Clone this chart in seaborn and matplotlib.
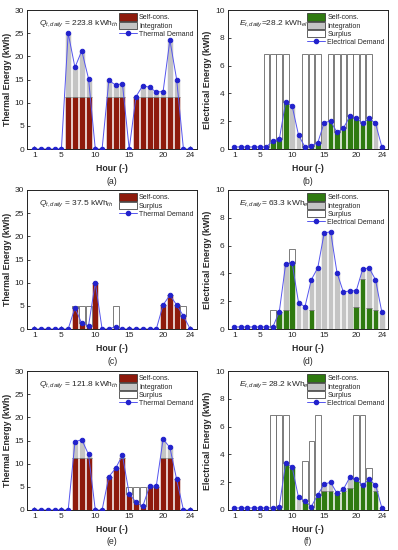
import matplotlib
matplotlib.use("Agg")
import matplotlib.pyplot as plt
import pandas as pd
import seaborn as sns
from matplotlib.patches import Patch
from matplotlib.lines import Line2D

hours = list(range(1, 25))

# (a) thermal, case 1
demand_a = [0, 0, 0, 0, 0, 25.0, 17.6, 21.2, 15.2, 0, 0, 14.8, 13.8, 14.1, 0, 11.3,
            13.7, 13.3, 12.3, 12.4, 23.5, 15.0, 0, 0]
self_a = [0, 0, 0, 0, 0, 11.3, 11.3, 11.3, 11.3, 0, 0, 11.3, 11.3, 11.3, 0, 11.3,
          11.3, 11.3, 11.3, 11.3, 11.3, 11.3, 0, 0]
surplus_a = [0] * 24

# (b) electrical, case 1
demand_b = [0.15, 0.15, 0.15, 0.15, 0.15, 0.15, 0.6, 0.7, 3.4, 3.1, 1.0, 0.15, 0.25, 0.45,
            1.9, 2.0, 1.2, 1.5, 2.35, 2.25, 1.85, 2.2, 1.85, 0.15]
self_b = [0, 0, 0, 0, 0, 0.15, 0.6, 0.7, 3.4, 0, 0, 0.15, 0.25, 0.45, 0, 2.0, 1.2, 1.5,
          2.35, 2.25, 1.85, 2.2, 0, 0]
surplus_b = [0, 0, 0, 0, 0, 6.65, 6.2, 6.1, 3.4, 0, 0, 6.65, 6.55, 6.35, 0, 4.8, 5.6, 5.3,
             4.45, 4.55, 4.95, 4.6, 0, 0]

# (c) thermal, case 2
demand_c = [0, 0, 0, 0, 0, 0, 4.6, 1.2, 0.7, 10.0, 0, 0, 0.5, 0, 0, 0, 0, 0, 0, 5.2,
            7.3, 5.2, 2.8, 0]
self_c = [0, 0, 0, 0, 0, 0, 4.6, 1.2, 0.7, 10.0, 0, 0, 0.5, 0, 0, 0, 0, 0, 0, 5.2,
          7.3, 5.2, 2.8, 0]
surplus_c = [0, 0, 0, 0, 0, 0, 0.4, 3.8, 4.3, 0, 0, 0, 4.5, 0, 0, 0, 0, 0, 0, 0,
             0, 0, 2.2, 0]

# (d) electrical, case 2
demand_d = [0.15, 0.15, 0.15, 0.15, 0.15, 0.15, 0.15, 1.25, 4.7, 4.75, 1.9, 1.6, 3.55, 4.4,
            6.9, 7.0, 4.05, 2.65, 2.75, 2.75, 4.3, 4.4, 3.55, 1.2]
self_d = [0, 0, 0, 0, 0, 0, 0.15, 1.25, 1.35, 4.75, 0, 0, 1.35, 0, 0, 0, 0, 0, 0, 1.6,
          3.6, 1.5, 1.35, 0]
surplus_d = [0, 0, 0, 0, 0, 0, 1.2, 0, 0, 1.0, 0, 0, 0, 0, 0, 0, 0, 0, 0, 0, 0, 0, 0, 0]

# (e) thermal, case 3
demand_e = [0, 0, 0, 0, 0, 0, 14.7, 15.2, 12.0, 0, 0, 7.2, 9.0, 11.8, 3.5, 1.7, 0.8, 5.1,
            5.2, 15.3, 13.5, 6.6, 0, 0]
self_e = [0, 0, 0, 0, 0, 0, 11.3, 11.3, 11.3, 0, 0, 7.2, 9.0, 11.3, 3.5, 1.7, 0.8, 4.9,
          4.9, 11.3, 11.3, 6.6, 0, 0]
surplus_e = [0, 0, 0, 0, 0, 0, 0, 0, 0, 0, 0, 0, 0, 0, 1.4, 3.2, 4.1, 0, 0, 0, 0, 0, 0, 0]

# (f) electrical, case 3
demand_f = [0.15, 0.15, 0.15, 0.15, 0.15, 0.15, 0.15, 0.25, 3.4, 3.1, 0.9, 0.65, 0.25, 1.1,
            1.85, 2.0, 1.2, 1.5, 2.35, 2.2, 1.8, 2.2, 1.8, 0.15]
self_f = [0, 0, 0, 0, 0, 0, 0.15, 0.25, 3.4, 3.1, 0, 0.65, 0.25, 1.1, 1.35, 1.35, 1.2, 1.35,
          1.6, 2.2, 1.8, 2.2, 1.35, 0]
surplus_f = [0, 0, 0, 0, 0, 0, 6.65, 6.55, 3.4, 0, 0, 2.9, 4.7, 5.7, 0, 0, 0, 0, 0, 4.6,
             5.0, 0.8, 0, 0]

daily_labels = [r"$Q_{t,daily}$ = 223.8 kWh$_{th}$", r"$E_{t,daily}$=28.2 kWh$_{el}$",
                r"$Q_{t,daily}$ = 37.5 kWh$_{th}$", r"$E_{t,daily}$= 63.3 kWh$_{el}$",
                r"$Q_{t,daily}$ = 121.8 kWh$_{th}$", r"$E_{t,daily}$= 28.2 kWh$_{el}$"]
captions = ["(a)", "(b)", "(c)", "(d)", "(e)", "(f)"]

RED = "#8e1a0c"
GREEN = "#2f7a10"
GREY = "#c4c4c4"
BLUE = "#2222cc"

sns.set_theme(style="ticks")
plt.rcParams["font.family"] = ["Liberation Sans", "DejaVu Sans"]
plt.rcParams["mathtext.fontset"] = "custom"
plt.rcParams["mathtext.rm"] = "Liberation Sans"
plt.rcParams["mathtext.it"] = "Liberation Sans:italic"


def draw_panel(ax, demand, selfc, surplus, kind, text, legend_items):
    self_color = RED if kind == "thermal" else GREEN
    # integration (grey) under the demand, self-consumption on top of it from zero
    ax.bar(hours, demand, width=0.88, color=GREY, edgecolor="white", linewidth=0.4, zorder=2)
    ax.bar(hours, selfc, width=0.88, color=self_color, edgecolor="white", linewidth=0.4, zorder=3)
    ax.bar(hours, surplus, bottom=selfc, width=0.88, color="white", edgecolor="#666666",
           linewidth=0.6, zorder=3)
    df = pd.DataFrame({"hour": hours, "demand": demand})
    sns.lineplot(data=df, x="hour", y="demand", ax=ax, color="#5555ee", linewidth=0.7,
                 marker="o", markersize=3.2, markerfacecolor=BLUE, markeredgecolor=BLUE, zorder=4)

    ax.set_xlim(0, 25)
    ax.set_xticks([1, 5, 10, 15, 20, 24])
    if kind == "thermal":
        ax.set_ylim(0, 30)
        ax.set_yticks(range(0, 31, 5))
        ax.set_ylabel("Thermal Energy (kWh)", fontsize=6.3, fontweight="bold", labelpad=2)
    else:
        ax.set_ylim(0, 10)
        ax.set_yticks(range(0, 11, 2))
        ax.set_ylabel("Electrical Energy (kWh)", fontsize=6.3, fontweight="bold", labelpad=2)
    ax.set_xlabel("Hour (-)", fontsize=6.3, fontweight="bold", labelpad=3)
    ax.tick_params(direction="in", length=2.5, width=0.6, labelsize=6, pad=2.5)
    for s in ax.spines.values():
        s.set_visible(True)
        s.set_linewidth(0.7)
        s.set_color("#222222")
    ax.text(0.07, 0.9, text, transform=ax.transAxes, fontsize=6, va="center")

    handles = []
    names = {"self": "Self-cons.", "integ": "Integration", "surplus": "Surplus"}
    for item in legend_items:
        if item == "self":
            handles.append(Patch(facecolor=self_color, edgecolor="#222222", linewidth=0.5,
                                 label=names[item]))
        elif item == "integ":
            handles.append(Patch(facecolor=GREY, edgecolor="#222222", linewidth=0.5,
                                 label=names[item]))
        elif item == "surplus":
            handles.append(Patch(facecolor="white", edgecolor="#222222", linewidth=0.5,
                                 label=names[item]))
    dem_label = "Thermal Demand" if kind == "thermal" else "Electrical Demand"
    handles.append(Line2D([0], [0], color="#5555ee", linewidth=0.7, marker="o", markersize=3,
                          markerfacecolor=BLUE, markeredgecolor=BLUE, label=dem_label))
    ax.legend(handles=handles, loc="upper right", fontsize=5, frameon=False,
              handlelength=2.6, handleheight=1.2, labelspacing=0.05, handletextpad=0.3,
              borderaxespad=0.3, borderpad=0.2)


fig = plt.figure(figsize=(3.98, 5.5), dpi=100)
W, H = 398.0, 550.0
tops = [10, 190, 371]
panels = [
    (demand_a, self_a, surplus_a, "thermal", ["self", "integ"]),
    (demand_b, self_b, surplus_b, "electrical", ["self", "integ", "surplus"]),
    (demand_c, self_c, surplus_c, "thermal", ["self", "surplus"]),
    (demand_d, self_d, surplus_d, "electrical", ["self", "integ", "surplus"]),
    (demand_e, self_e, surplus_e, "thermal", ["self", "integ", "surplus"]),
    (demand_f, self_f, surplus_f, "electrical", ["self", "integ", "surplus"]),
]
for i, (dem, sc, sp, kind, leg) in enumerate(panels):
    row, col = divmod(i, 2)
    top = tops[row]
    if col == 0:
        left, width = 27.5, 169.5
    else:
        left, width = 228.0, 160.3
    ax = fig.add_axes([left / W, 1 - (top + 139) / H, width / W, 139 / H])
    draw_panel(ax, dem, sc, sp, kind, daily_labels[i], leg)
    fig.text((left + width / 2) / W, 1 - (top + 171) / H, captions[i], ha="center",
             va="center", fontsize=6.3)

fig.savefig("out.png", dpi=100)
